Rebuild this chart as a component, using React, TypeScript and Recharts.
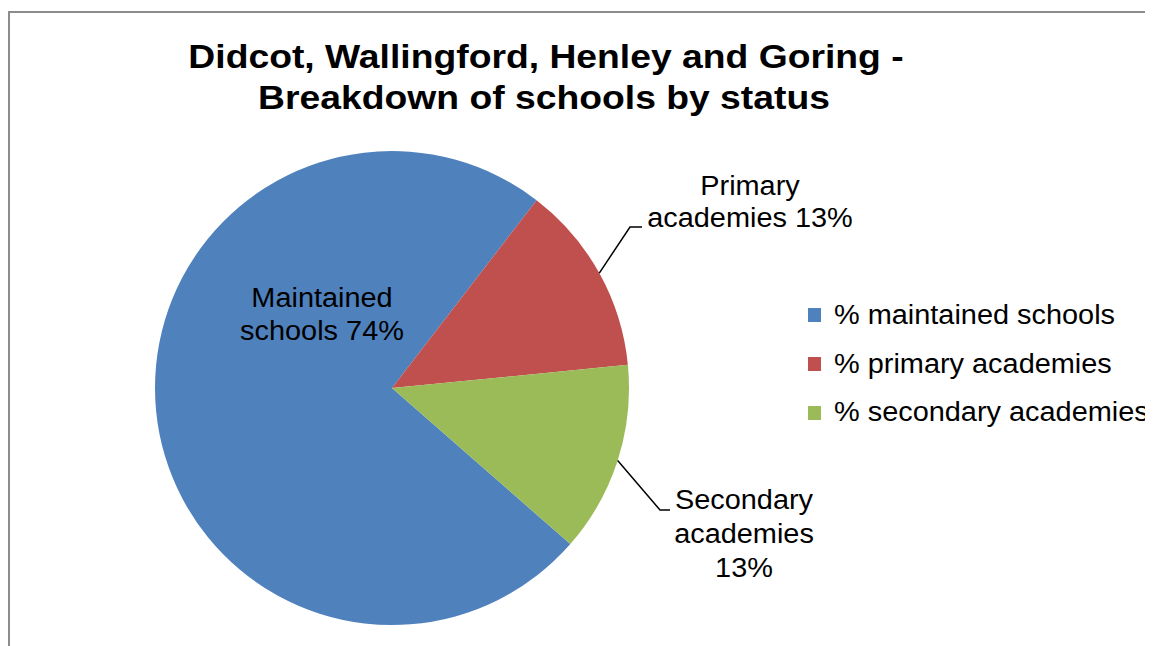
import React from "react";
import { PieChart, Pie, Cell, Legend } from "recharts";

const categories = ["% maintained schools", "% primary academies", "% secondary academies"];
const values = [74, 13, 13];
const labelLines = [["Maintained", "schools 74%"], ["Primary", "academies 13%"], ["Secondary", "academies", "13%"]];
const titleLines = ["Didcot, Wallingford, Henley and Goring -", "Breakdown of schools by status"];
const colors = ["#4F81BD", "#C0504D", "#9BBB59"];

const data = categories.map((name, i) => ({ name, value: values[i] }));

const FONT = "'Liberation Sans', Arial, sans-serif";
const W = 1145;
const H = 638;
const SX = 1.07;
const LABEL_FS = 27;
const RAD = Math.PI / 180;

// label layout offsets relative to pie centre (style only)
const labelLayout = [
  { tx: -70, lines: [-81, -48], elbow: null },
  { tx: 358, lines: [-193, -161], elbow: { dx: 238, dy: -161, ex: 250 } },
  { tx: 352, lines: [121, 155, 189], elbow: { dx: 268, dy: 122, ex: 278 } },
];

const StretchText = ({ x, y, children, size, weight = "normal" }: any) => (
  <text
    transform={`translate(${x},${y}) scale(${SX},1)`}
    x={0}
    y={0}
    textAnchor="middle"
    fontFamily={FONT}
    fontSize={size}
    fontWeight={weight}
    fill="#000"
  >
    {children}
  </text>
);

const renderLabel = (props: any) => {
  const { cx, cy, midAngle, outerRadius, index } = props;
  const lay = labelLayout[index];
  const lines = labelLines[index];
  const px = cx + outerRadius * Math.cos(-midAngle * RAD);
  const py = cy + outerRadius * Math.sin(-midAngle * RAD);
  return (
    <g key={`lbl-${index}`}>
      {lay.elbow && (
        <polyline
          points={`${px},${py} ${cx + lay.elbow.dx},${cy + lay.elbow.dy} ${cx + lay.elbow.ex},${cy + lay.elbow.dy}`}
          fill="none"
          stroke="#000"
          strokeWidth={1.5}
        />
      )}
      {lines.map((t, i) => (
        <StretchText key={i} x={cx + lay.tx} y={cy + lay.lines[i]} size={LABEL_FS}>
          {t}
        </StretchText>
      ))}
    </g>
  );
};

const renderLegend = (props: any) => {
  const { payload } = props;
  return (
    <div style={{ position: "relative", overflow: "visible" }}>
      {(payload || []).map((entry: any, i: number) => (
        <div
          key={i}
          style={{ display: "flex", alignItems: "center", height: 48.7, whiteSpace: "nowrap", overflow: "visible" }}
        >
          <div style={{ width: 13, height: 14, background: entry.color, marginRight: 13, flex: "none" }} />
          <span
            style={{
              fontFamily: FONT,
              fontSize: LABEL_FS,
              color: "#000",
              display: "inline-block",
              transform: `scaleX(${SX})`,
              transformOrigin: "left center",
            }}
          >
            {entry.value}
          </span>
        </div>
      ))}
    </div>
  );
};

export default function App() {
  return (
    <div style={{ position: "relative", width: W, height: H, overflow: "hidden", background: "#fff" }}>
      <div
        style={{
          position: "absolute",
          left: 0,
          top: 3,
          width: W + 50,
          height: H + 50,
          borderTop: "2px solid #8c8c8c",
          borderLeft: "2px solid #8c8c8c",
        }}
      />
      <div style={{ position: "absolute", left: 0, top: 0 }}>
        <PieChart width={W} height={H} style={{ overflow: "visible" }}>
          <text
            transform={`translate(538,60) scale(1.13,1)`}
            x={0}
            y={0}
            textAnchor="middle"
            fontFamily={FONT}
            fontSize={33}
            fontWeight="bold"
            fill="#000"
          >
            {titleLines[0]}
          </text>
          <text
            transform={`translate(536,101) scale(1.13,1)`}
            x={0}
            y={0}
            textAnchor="middle"
            fontFamily={FONT}
            fontSize={33}
            fontWeight="bold"
            fill="#000"
          >
            {titleLines[1]}
          </text>
          <Pie
            data={data}
            dataKey="value"
            nameKey="name"
            cx={379}
            cy={375}
            outerRadius={237}
            startAngle={-41.2}
            endAngle={-401.2}
            stroke="none"
            label={renderLabel}
            labelLine={false}
            isAnimationActive={false}
          >
            {data.map((_, i) => (
              <Cell key={i} fill={colors[i]} />
            ))}
          </Pie>
          <Legend
            content={renderLegend}
            layout="vertical"
            wrapperStyle={{ position: "absolute", left: 800, top: 283, width: 330, overflow: "visible" }}
          />
        </PieChart>
      </div>
    </div>
  );
}
